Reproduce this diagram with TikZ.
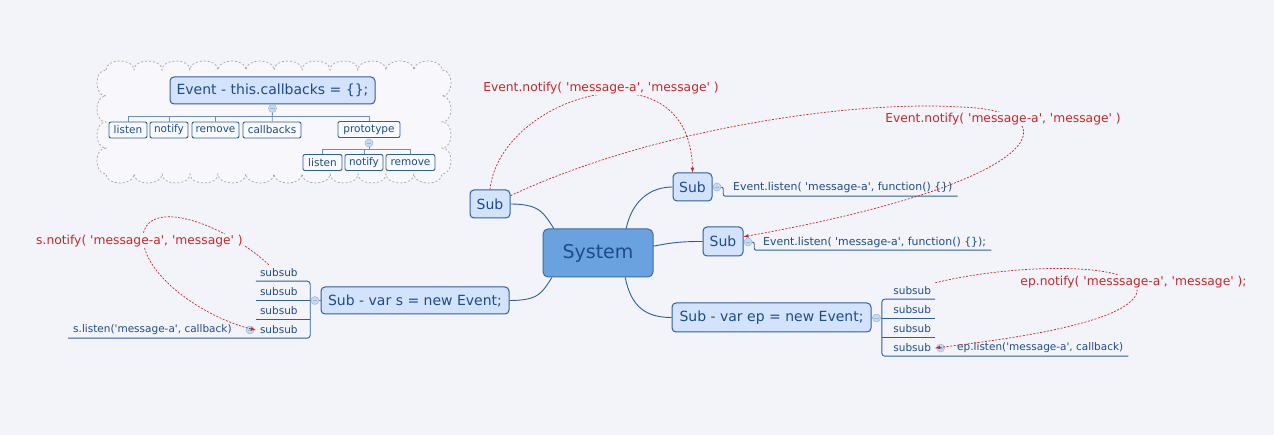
\documentclass[tikz,border=0pt]{standalone}
\usepackage{fontspec}
\setmainfont{DejaVu Sans}[Ligatures=TeXOff]
\newfontfamily\notefont{DejaVu Sans}[Ligatures=TeXOff]

\definecolor{bg}{HTML}{F3F4F9}
\definecolor{ink}{HTML}{1E4C88}
\definecolor{rootfill}{HTML}{69A2DF}
\definecolor{rootline}{HTML}{3B6DA8}
\definecolor{subfill}{HTML}{D3E3FB}
\definecolor{subline}{HTML}{2F5E9E}
\definecolor{leaffill}{HTML}{F9FAFD}
\definecolor{twigline}{HTML}{6F8EC0}
\definecolor{foldfill}{HTML}{C8D8F0}
\definecolor{foldline}{HTML}{9DB6DC}
\definecolor{notered}{HTML}{C8262A}
\definecolor{cloudfill}{HTML}{F8F8FC}
\definecolor{cloudline}{HTML}{A3A3A8}

\begin{document}
\begin{tikzpicture}[x=1pt,y=-1pt,
  every node/.style={inner sep=0pt,anchor=center,text=ink},
  root/.style={draw=rootline,fill=rootfill,rounded corners=5pt,line width=1pt,font=\fontsize{19}{22}\selectfont},
  topic/.style={draw=subline,fill=subfill,rounded corners=4pt,line width=1pt,font=\fontsize{14}{17}\selectfont},
  leaf/.style={draw=subline,fill=leaffill,rounded corners=2pt,line width=0.9pt,minimum height=16pt,font=\fontsize{10.5}{12}\selectfont},
  lbl/.style={minimum height=16pt,inner xsep=5pt,font=\fontsize{10.5}{12}\selectfont},
  fold/.style={circle,draw=foldline,fill=foldfill,line width=0.5pt,minimum size=8pt,
    path picture={\draw[foldline,line width=0.8pt] ([xshift=-2.2pt]path picture bounding box.center) -- ([xshift=2.2pt]path picture bounding box.center);}},
  branch/.style={draw=subline,line width=0.9pt},
  twig/.style={draw=twigline,line width=0.8pt},
  note/.style={text=notered,fill=bg,inner sep=1pt,font=\notefont\fontsize{12.3}{14}\selectfont},
  annot/.style={draw=notered,line width=0.7pt,dash pattern=on 2pt off 1.5pt,-latex}]

  \fill[bg] (0,0) rectangle (1274,435);

  % cloud round the class
  \draw[draw=cloudline,fill=cloudfill,dash pattern=on 2pt off 2pt,line width=0.7pt] (106,70)
    \foreach \i in {1,...,12}{ .. controls +(0,-12) and +(0,-12) .. ++(28,0)}
    \foreach \i in {1,...,4}{ .. controls +(12,0) and +(12,0) .. ++(0,26)}
    \foreach \i in {1,...,12}{ .. controls +(0,12) and +(0,12) .. ++(-28,0)}
    \foreach \i in {1,...,4}{ .. controls +(-12,0) and +(-12,0) .. ++(0,-26)} -- cycle;

  \node[topic,minimum width=205pt,minimum height=27pt] (event) at (272.5,90.5) {Event - this.callbacks = \{\};};
  \node[fold] (fEv) at (272.5,108.5) {};
  \node[leaf,minimum width=38pt] (lis1) at (128,130) {listen};
  \node[leaf,minimum width=38pt] (not1) at (169,130) {notify};
  \node[leaf,minimum width=47pt] (rem1) at (215.5,130) {remove};
  \node[leaf,minimum width=58pt] (cb) at (272,130) {callbacks};
  \node[leaf,minimum width=62pt] (proto) at (369,129.5) {prototype};
  \node[fold] (fPr) at (369,143) {};
  \node[leaf,minimum width=39pt] (lis2) at (322.5,162.5) {listen};
  \node[leaf,minimum width=38pt] (not2) at (364,162.5) {notify};
  \node[leaf,minimum width=49pt] (rem2) at (410.5,162.5) {remove};

  \draw[twig] (fEv) -- (cb);
  \draw[twig] (lis1.north) -- ++(0,-5) -| (proto.north);
  \draw[twig] (not1.north) -- ++(0,-5) (rem1.north) -- ++(0,-5);
  \draw[twig] (fPr.south) -- ++(0,2.5);
  \draw[twig] (lis2.north) -- ++(0,-5) -| (rem2.north);
  \draw[twig] (not2.north) -- ++(0,-5);

  % the map
  \node[root,minimum width=110pt,minimum height=48pt] (sys) at (598,253) {System};
  \node[topic,minimum width=40pt,minimum height=28pt] (subA) at (490,204) {Sub};
  \node[topic,minimum width=39pt,minimum height=28pt] (subB) at (692.5,187) {Sub};
  \node[topic,minimum width=40pt,minimum height=29pt] (subC) at (723,241.5) {Sub};
  \node[topic,minimum width=188pt,minimum height=27pt] (subS) at (415,300.5) {Sub - var s = new Event;};
  \node[topic,minimum width=199pt,minimum height=29pt] (subE) at (771.5,317.5) {Sub - var ep = new Event;};

  \node[fold] (fB) at (717,187) {};
  \node[fold] (fC) at (748,242) {};
  \node[fold] (fS) at (315,300.5) {};
  \node[fold] (fE) at (876.5,318) {};

  \draw[branch] (subA.east) .. controls +(30,0) and +(-10,-15) .. (sys.151);
  \draw[branch] (sys.41) .. controls +(6,-28) and +(-22,0) .. (subB.west);
  \draw[branch] (sys.7) .. controls +(20,-4) and +(-20,0) .. (subC.west);
  \draw[branch] (sys.208) .. controls +(-10,15) and +(30,0) .. (subS.east);
  \draw[branch] (sys.318) .. controls +(6,30) and +(-25,0) .. (subE.west);
  \draw[branch] (subB) -- (fB) (subC) -- (fC) (subS) -- (fS) (subE) -- (fE);

  \node[lbl,minimum height=18pt,anchor=west,font=\fontsize{10.9}{12}\selectfont] (lb) at (728,187) {Event.listen( 'message-a', function() \{\})};
  \draw[branch,rounded corners=2pt] (fB.east) -- ++(2,0) |- (lb.south east);
  \node[lbl,anchor=west,font=\fontsize{10.9}{12}\selectfont] (lc) at (758,242) {Event.listen( 'message-a', function() \{\});};
  \draw[branch,rounded corners=2pt] (fC.east) -- ++(2,0) |- (lc.south east);

  \begin{scope}[every node/.append style={lbl,text width=46pt,align=left,inner xsep=4pt}]
    \node (ss1) at (283,273) {subsub};
    \node (ss2) at (283,292) {subsub};
    \node (ss3) at (283,311) {subsub};
    \node (ss4) at (283,330) {subsub};
  \end{scope}
  \node[lbl,anchor=west] (sl) at (68,330) {s.listen('message-a', callback)};
  \node[fold] (fL) at (250,330) {};
  \draw[branch,rounded corners=3pt] (ss1.south west) -- (ss1.south east) -- (ss4.south east) -- (sl.south west);
  \draw[branch] (ss2.south west) -- (ss2.south east) (ss3.south west) -- (ss3.south east);

  \begin{scope}[every node/.append style={lbl,text width=45pt,align=right,inner xsep=4pt}]
    \node (ssE1) at (908.5,291) {subsub};
    \node (ssE2) at (908.5,310) {subsub};
    \node (ssE3) at (908.5,329) {subsub};
    \node (ssE4) at (908.5,348) {subsub};
  \end{scope}
  \node[lbl,anchor=west] (el) at (952,348) {ep.listen('message-a', callback)};
  \node[fold] (fR) at (940.5,348) {};
  \draw[branch,rounded corners=3pt] (ssE1.south east) -- (ssE1.south west) -- (ssE4.south west) -- (el.south east);
  \draw[branch] (ssE2.south west) -- (ssE2.south east) (ssE3.south west) -- (ssE3.south east);

  % calls between subs
  \draw[annot] (subA.north) .. controls (500,95) and (690,40) .. (subB.north);
  \draw[annot] (subA.22) .. controls (650,130) and (850,100) .. (960,107) .. controls (1070,110) and (1060,180) .. (subC.13);
  \draw[annot] (ss1.150) .. controls (230,228) and (150,195) .. (143,235) .. controls (141,275) and (205,318) .. (ss4.west);
  \draw[annot] (ssE1.north east) .. controls (1020,262) and (1150,262) .. (1136,295) .. controls (1120,325) and (1000,340) .. (ssE4.east);

  \node[note] (n1) at (601,88) {Event.notify( 'message-a', 'message' )};
  \node[note] (n2) at (1003,119) {Event.notify( 'message-a', 'message' )};
  \node[note] (n3) at (139.5,241) {s.notify( 'message-a', 'message' )};
  \node[note] (n4) at (1133.5,282) {ep.notify( 'messsage-a', 'message' );};
\end{tikzpicture}
\end{document}
